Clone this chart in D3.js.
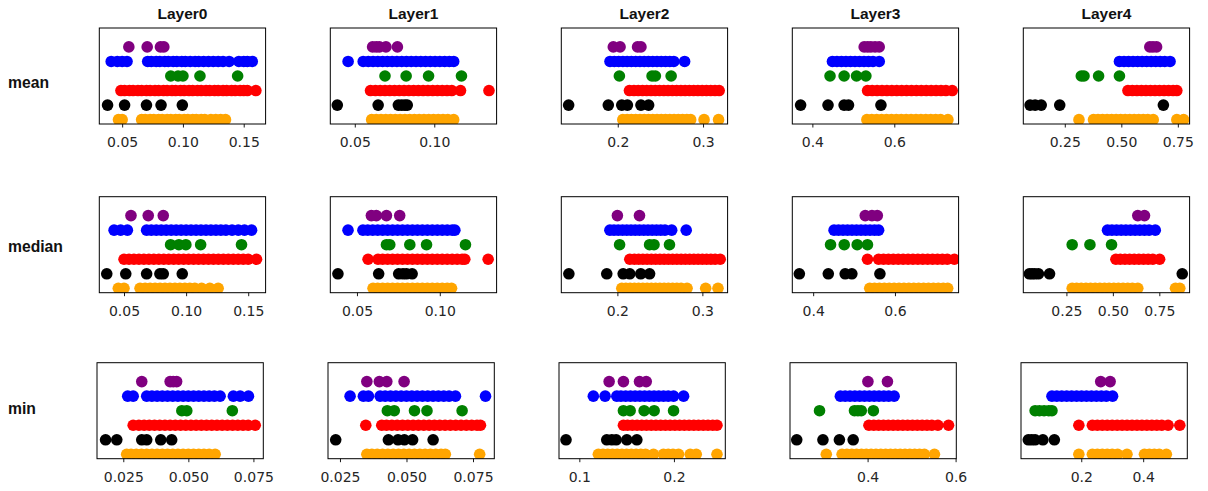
<!DOCTYPE html>
<html>
<head>
<meta charset="utf-8">
<script src="https://cdn.jsdelivr.net/npm/d3@7"></script>
<style>
  body { margin: 0; background: #fff; }
  svg { display: block; }
</style>
</head>
<body>
<div id="chart"></div>
<script>
// Row / column labels
const stats = ["mean", "median", "min"];
const layers = ["Layer0", "Layer1", "Layer2", "Layer3", "Layer4"];

// x extents of each panel [stat][layer]
const xDomains = [
  [[0.0312, 0.168], [0.0346, 0.1392], [0.1338, 0.3288], [0.351, 0.757], [0.0665, 0.802]],
  [[0.0301, 0.164], [0.0339, 0.1343], [0.134, 0.3297], [0.349, 0.7556], [0.018, 0.913]],
  [[0.0149, 0.0788], [0.0205, 0.083], [0.0785, 0.2543], [0.2236, 0.6016], [0.0054, 0.5425]]
];

// tick values and their labels [stat][layer]
const xTicks = [
  [[0.05, 0.10, 0.15], [0.05, 0.10], [0.2, 0.3], [0.4, 0.6], [0.25, 0.50, 0.75]],
  [[0.05, 0.10, 0.15], [0.05, 0.10], [0.2, 0.3], [0.4, 0.6], [0.25, 0.50, 0.75]],
  [[0.025, 0.050, 0.075], [0.025, 0.050, 0.075], [0.1, 0.2], [0.4, 0.6], [0.2, 0.4]]
];
const tickLabels = [
  [["0.05", "0.10", "0.15"], ["0.05", "0.10"], ["0.2", "0.3"], ["0.4", "0.6"], ["0.25", "0.50", "0.75"]],
  [["0.05", "0.10", "0.15"], ["0.05", "0.10"], ["0.2", "0.3"], ["0.4", "0.6"], ["0.25", "0.50", "0.75"]],
  [["0.025", "0.050", "0.075"], ["0.025", "0.050", "0.075"], ["0.1", "0.2"], ["0.4", "0.6"], ["0.2", "0.4"]]
];

// point values, one list per [stat][layer]
const purple = [
  [[0.0555, 0.0706, 0.0815, 0.0843],
   [0.0612, 0.0635, 0.0655, 0.0696, 0.0768],
   [0.1948, 0.2027, 0.2232, 0.2272],
   [0.5265, 0.535, 0.5429, 0.553, 0.5632],
   [0.626, 0.64, 0.656]],
  [[0.0556, 0.0695, 0.0816],
   [0.0587, 0.0617, 0.0678, 0.0758],
   [0.200, 0.226],
   [0.5274, 0.5437, 0.5568],
   [0.6342, 0.6701]],
  [[0.0321, 0.043, 0.0442, 0.0455],
   [0.0351, 0.0398, 0.0426, 0.0491],
   [0.1315, 0.1466, 0.1636, 0.1707],
   [0.4007, 0.4451],
   [0.2629, 0.2933]]
];

const blue = [
  [[0.041, 0.046, 0.050, 0.054, 0.071, 0.074, 0.078, 0.081, 0.085, 0.088, 0.092, 0.095, 0.099, 0.102, 0.106, 0.110, 0.113, 0.117, 0.121, 0.125, 0.129, 0.133, 0.138, 0.146, 0.150, 0.153, 0.157],
   [0.0458, 0.0553, 0.0585, 0.0615, 0.0645, 0.0675, 0.0705, 0.0735, 0.0765, 0.0795, 0.0825, 0.0855, 0.0885, 0.0915, 0.0945, 0.0975, 0.1005, 0.1035, 0.1065, 0.1095, 0.1122],
   [0.1909, 0.196, 0.201, 0.206, 0.211, 0.216, 0.221, 0.226, 0.231, 0.236, 0.241, 0.246, 0.251, 0.256, 0.261, 0.2657, 0.2784],
   [0.449, 0.460, 0.471, 0.482, 0.493, 0.504, 0.515, 0.526, 0.537, 0.548, 0.5632],
   [0.4917, 0.512, 0.532, 0.552, 0.572, 0.592, 0.612, 0.632, 0.652, 0.672, 0.692, 0.7155]],
  [[0.042, 0.0473, 0.0527, 0.0682, 0.072, 0.076, 0.080, 0.084, 0.088, 0.092, 0.096, 0.100, 0.104, 0.108, 0.112, 0.116, 0.120, 0.124, 0.128, 0.132, 0.137, 0.142, 0.147, 0.1527],
   [0.0446, 0.0536, 0.0565, 0.0595, 0.0625, 0.0655, 0.0685, 0.0715, 0.0745, 0.0775, 0.0805, 0.0835, 0.0865, 0.0895, 0.0925, 0.0955, 0.0985, 0.1015, 0.1045, 0.1075, 0.1091],
   [0.1912, 0.196, 0.201, 0.206, 0.211, 0.216, 0.221, 0.226, 0.231, 0.236, 0.241, 0.246, 0.251, 0.256, 0.2639, 0.281],
   [0.4511, 0.462, 0.473, 0.484, 0.495, 0.506, 0.517, 0.528, 0.539, 0.550, 0.560],
   [0.4712, 0.495, 0.520, 0.545, 0.570, 0.595, 0.620, 0.645, 0.670, 0.695, 0.7283]],
  [[0.0267, 0.0288, 0.034, 0.036, 0.038, 0.040, 0.042, 0.044, 0.046, 0.048, 0.050, 0.052, 0.054, 0.056, 0.058, 0.060, 0.0622, 0.0673, 0.0699, 0.0731],
   [0.0288, 0.0338, 0.0357, 0.0401, 0.042, 0.044, 0.046, 0.048, 0.050, 0.052, 0.054, 0.056, 0.058, 0.060, 0.062, 0.064, 0.066, 0.0684, 0.0797],
   [0.1148, 0.1272, 0.1396, 0.144, 0.149, 0.154, 0.159, 0.164, 0.169, 0.174, 0.179, 0.184, 0.189, 0.194, 0.1996, 0.2102],
   [0.3381, 0.349, 0.360, 0.371, 0.382, 0.393, 0.404, 0.415, 0.426, 0.437, 0.448, 0.4603],
   [0.1054, 0.121, 0.137, 0.153, 0.169, 0.185, 0.201, 0.217, 0.233, 0.249, 0.265, 0.281, 0.3011]]
];

const green = [
  [[0.090, 0.096, 0.100, 0.114, 0.145],
   [0.069, 0.0823, 0.0964, 0.1171],
   [0.2019, 0.2402, 0.2441, 0.2626],
   [0.4431, 0.4775, 0.5078, 0.5306],
   [0.323, 0.335, 0.3995, 0.4917]],
  [[0.0875, 0.0942, 0.0998, 0.1117, 0.1446],
   [0.0678, 0.0698, 0.0819, 0.092, 0.1155],
   [0.2026, 0.2379, 0.2431, 0.2613],
   [0.4425, 0.476, 0.5077, 0.5328],
   [0.281, 0.3766, 0.4929]],
  [[0.0475, 0.0494, 0.0669],
   [0.0428, 0.0454, 0.053, 0.0577, 0.0709],
   [0.1466, 0.1537, 0.1685, 0.1791, 0.1996],
   [0.2907, 0.3702, 0.378, 0.3856, 0.4131],
   [0.051, 0.065, 0.080, 0.095, 0.1054]]
];

const red = [
  [[0.049, 0.052, 0.056, 0.059, 0.063, 0.066, 0.070, 0.073, 0.077, 0.080, 0.084, 0.087, 0.091, 0.094, 0.098, 0.101, 0.105, 0.108, 0.112, 0.115, 0.119, 0.122, 0.126, 0.129, 0.133, 0.136, 0.140, 0.143, 0.147, 0.150, 0.153, 0.160],
   [0.0599, 0.063, 0.066, 0.069, 0.072, 0.075, 0.078, 0.081, 0.084, 0.087, 0.090, 0.093, 0.096, 0.099, 0.102, 0.105, 0.108, 0.111, 0.1165, 0.1344],
   [0.2137, 0.219, 0.224, 0.229, 0.234, 0.239, 0.244, 0.249, 0.254, 0.259, 0.264, 0.269, 0.274, 0.279, 0.284, 0.289, 0.294, 0.299, 0.304, 0.309, 0.314, 0.3189],
   [0.5348, 0.546, 0.558, 0.570, 0.582, 0.594, 0.606, 0.618, 0.630, 0.642, 0.654, 0.666, 0.678, 0.690, 0.702, 0.714, 0.726, 0.7414],
   [0.5293, 0.549, 0.569, 0.589, 0.609, 0.629, 0.649, 0.669, 0.689, 0.709, 0.729, 0.7455]],
  [[0.050, 0.054, 0.058, 0.062, 0.066, 0.070, 0.074, 0.078, 0.082, 0.086, 0.090, 0.094, 0.098, 0.102, 0.106, 0.110, 0.114, 0.118, 0.122, 0.126, 0.130, 0.134, 0.138, 0.142, 0.146, 0.150, 0.1567],
   [0.0567, 0.0627, 0.0655, 0.0685, 0.0715, 0.0745, 0.0775, 0.0805, 0.0835, 0.0865, 0.0895, 0.0925, 0.0955, 0.0985, 0.1015, 0.1045, 0.1075, 0.1105, 0.1135, 0.1151, 0.1292],
   [0.2146, 0.220, 0.225, 0.230, 0.235, 0.240, 0.245, 0.250, 0.255, 0.260, 0.265, 0.270, 0.275, 0.280, 0.285, 0.290, 0.295, 0.300, 0.305, 0.310, 0.315, 0.321],
   [0.5328, 0.560, 0.572, 0.584, 0.596, 0.608, 0.620, 0.632, 0.644, 0.656, 0.668, 0.680, 0.692, 0.704, 0.716, 0.728, 0.7452],
   [0.5163, 0.540, 0.565, 0.590, 0.615, 0.640, 0.665, 0.690, 0.715, 0.7516]],
  [[0.0288, 0.031, 0.033, 0.035, 0.037, 0.039, 0.041, 0.043, 0.045, 0.047, 0.049, 0.051, 0.053, 0.055, 0.057, 0.059, 0.061, 0.063, 0.065, 0.067, 0.069, 0.071, 0.073, 0.0757],
   [0.0347, 0.0407, 0.0425, 0.0445, 0.0465, 0.0485, 0.0505, 0.0525, 0.0545, 0.0565, 0.0585, 0.0605, 0.0625, 0.0645, 0.0665, 0.0685, 0.0705, 0.0725, 0.0745, 0.0765, 0.0778],
   [0.1466, 0.151, 0.156, 0.161, 0.166, 0.171, 0.176, 0.181, 0.186, 0.191, 0.196, 0.201, 0.206, 0.211, 0.216, 0.221, 0.226, 0.231, 0.236, 0.241, 0.2455],
   [0.403, 0.414, 0.425, 0.436, 0.447, 0.458, 0.469, 0.480, 0.491, 0.502, 0.513, 0.524, 0.535, 0.546, 0.5597, 0.584],
   [0.1922, 0.2359, 0.252, 0.268, 0.284, 0.300, 0.316, 0.332, 0.348, 0.364, 0.380, 0.396, 0.412, 0.428, 0.444, 0.460, 0.4804, 0.5182]]
];

const black = [
  [[0.038, 0.052, 0.070, 0.082, 0.0995],
   [0.039, 0.0647, 0.0774, 0.0795, 0.0815, 0.083],
   [0.1424, 0.1889, 0.2047, 0.2113, 0.2272, 0.2362],
   [0.3713, 0.4382, 0.4775, 0.4882, 0.5674],
   [0.0965, 0.1188, 0.1457, 0.2276, 0.686]],
  [[0.0361, 0.0514, 0.0682, 0.0789, 0.0816, 0.0969],
   [0.0385, 0.0631, 0.0752, 0.0778, 0.0799, 0.0833],
   [0.1429, 0.1875, 0.2068, 0.2146, 0.2275, 0.2379],
   [0.3662, 0.437, 0.4783, 0.4946, 0.5632],
   [0.0505, 0.065, 0.080, 0.0995, 0.1592, 0.8734]],
  [[0.0182, 0.0225, 0.0321, 0.034, 0.0394, 0.0436],
   [0.0234, 0.0432, 0.0468, 0.0492, 0.0523, 0.060],
   [0.0859, 0.129, 0.1343, 0.1389, 0.1502, 0.1608],
   [0.2389, 0.2985, 0.3359, 0.3672],
   [0.0291, 0.040, 0.051, 0.0761, 0.1131]]
];

const orange = [
  [[0.047, 0.050, 0.066, 0.069, 0.073, 0.076, 0.080, 0.083, 0.087, 0.090, 0.094, 0.097, 0.101, 0.104, 0.108, 0.111, 0.115, 0.118, 0.123, 0.127, 0.131, 0.135],
   [0.0606, 0.0635, 0.0665, 0.0695, 0.0725, 0.0755, 0.0785, 0.0815, 0.0845, 0.0875, 0.0905, 0.0935, 0.0965, 0.0995, 0.1025, 0.1055, 0.1085, 0.1122],
   [0.2059, 0.211, 0.216, 0.221, 0.226, 0.231, 0.236, 0.241, 0.246, 0.251, 0.256, 0.261, 0.266, 0.271, 0.276, 0.281, 0.2855, 0.3012, 0.3182],
   [0.5331, 0.545, 0.557, 0.569, 0.581, 0.593, 0.605, 0.617, 0.629, 0.641, 0.653, 0.665, 0.677, 0.689, 0.701, 0.713, 0.7309],
   [0.3127, 0.377, 0.397, 0.417, 0.437, 0.457, 0.477, 0.497, 0.517, 0.537, 0.557, 0.577, 0.597, 0.617, 0.6412, 0.7455, 0.7755]],
  [[0.0454, 0.050, 0.0629, 0.067, 0.071, 0.075, 0.079, 0.083, 0.087, 0.091, 0.095, 0.099, 0.103, 0.107, 0.1125, 0.1191, 0.1258],
   [0.0597, 0.0625, 0.0655, 0.0685, 0.0715, 0.0745, 0.0775, 0.0805, 0.0835, 0.0865, 0.0895, 0.0925, 0.0955, 0.0985, 0.1015, 0.1045, 0.1071],
   [0.2052, 0.210, 0.215, 0.220, 0.225, 0.230, 0.235, 0.240, 0.245, 0.250, 0.255, 0.260, 0.265, 0.270, 0.275, 0.282, 0.3039, 0.3184],
   [0.5383, 0.550, 0.562, 0.574, 0.586, 0.598, 0.610, 0.622, 0.634, 0.646, 0.658, 0.670, 0.682, 0.694, 0.706, 0.718, 0.7289],
   [0.281, 0.305, 0.330, 0.355, 0.380, 0.405, 0.430, 0.455, 0.480, 0.505, 0.530, 0.555, 0.580, 0.605, 0.6342, 0.837, 0.8603]],
  [[0.0263, 0.028, 0.030, 0.032, 0.034, 0.036, 0.038, 0.040, 0.042, 0.044, 0.046, 0.048, 0.050, 0.052, 0.054, 0.056, 0.058, 0.0603],
   [0.0351, 0.037, 0.039, 0.041, 0.043, 0.045, 0.047, 0.049, 0.051, 0.053, 0.055, 0.057, 0.059, 0.061, 0.063, 0.0646, 0.0775],
   [0.1201, 0.125, 0.130, 0.135, 0.140, 0.145, 0.150, 0.155, 0.160, 0.165, 0.170, 0.1784, 0.1889, 0.194, 0.199, 0.2049, 0.2172, 0.2236, 0.2455],
   [0.3061, 0.342, 0.353, 0.364, 0.375, 0.386, 0.397, 0.408, 0.419, 0.430, 0.441, 0.452, 0.463, 0.474, 0.485, 0.496, 0.507, 0.518, 0.529, 0.5519],
   [0.1922, 0.2359, 0.252, 0.268, 0.284, 0.300, 0.3174, 0.3477, 0.4041, 0.420, 0.436, 0.452, 0.4749]]
];

// series stacked bottom (0) to top (5)
const seriesNames = ["orange", "black", "red", "green", "blue", "purple"];
const seriesData = [orange, black, red, green, blue, purple];

const width = 1208;
const height = 491;
const panelW = 166.3;
const panelH = 96;
const panelTop = [28, 196.7, 362.7];
const rowShift = [0, 0, -2.3];
const rowLabelY = [88, 252, 414];

const svg = d3.select("#chart")
  .append("svg")
  .attr("width", width)
  .attr("height", height);

svg.append("rect")
  .attr("width", width)
  .attr("height", height)
  .attr("fill", "#fff");

const yScale = d3.scaleLinear()
  .domain([-0.3, 6.3])
  .range([panelH, 0]);

// row labels
svg.selectAll("text.rowlabel")
  .data(stats)
  .join("text")
  .attr("class", "rowlabel")
  .attr("x", 8)
  .attr("y", (d, i) => rowLabelY[i])
  .style("font-family", "'Liberation Sans', Arial, sans-serif")
  .style("font-weight", "bold")
  .style("font-size", "15.7px")
  .style("fill", "#111")
  .text(d => d);

stats.forEach((stat, r) => {
  layers.forEach((layer, c) => {
    const left = 99.3 + c * 231 + rowShift[r];
    const top = panelTop[r];
    const g = svg.append("g").attr("transform", `translate(${left},${top})`);

    const x = d3.scaleLinear()
      .domain(xDomains[r][c])
      .range([0, panelW]);

    const clipId = `clip-${r}-${c}`;
    g.append("clipPath").attr("id", clipId)
      .append("rect").attr("width", panelW).attr("height", panelH);

    const dots = g.append("g").attr("clip-path", `url(#${clipId})`);
    seriesData.forEach((series, k) => {
      dots.selectAll(`circle.s${k}`)
        .data(series[r][c])
        .join("circle")
        .attr("class", `s${k}`)
        .attr("cx", d => x(d))
        .attr("cy", yScale(k))
        .attr("r", 5.8)
        .attr("fill", seriesNames[k]);
    });

    // x axis
    const axis = g.append("g")
      .attr("transform", `translate(0,${panelH})`)
      .call(d3.axisBottom(x)
        .tickValues(xTicks[r][c])
        .tickFormat((d, i) => tickLabels[r][c][i])
        .tickSize(3.5)
        .tickSizeOuter(0)
        .tickPadding(10));
    axis.select(".domain").remove();
    axis.selectAll("line").attr("stroke", "#000").attr("stroke-width", 0.9);
    axis.selectAll("text")
      .style("font-family", "'DejaVu Sans', sans-serif")
      .style("font-size", "14px")
      .style("fill", "#262626");

    // frame
    g.append("rect")
      .attr("width", panelW)
      .attr("height", panelH)
      .attr("fill", "none")
      .attr("stroke", "#000")
      .attr("stroke-width", 1);

    if (r === 0) {
      g.append("text")
        .attr("x", panelW / 2)
        .attr("y", 19 - top)
        .attr("text-anchor", "middle")
        .style("font-family", "'Liberation Sans', Arial, sans-serif")
        .style("font-weight", "bold")
        .style("font-size", "15.5px")
        .style("fill", "#111")
        .text(layer);
    }
  });
});
</script>
</body>
</html>
